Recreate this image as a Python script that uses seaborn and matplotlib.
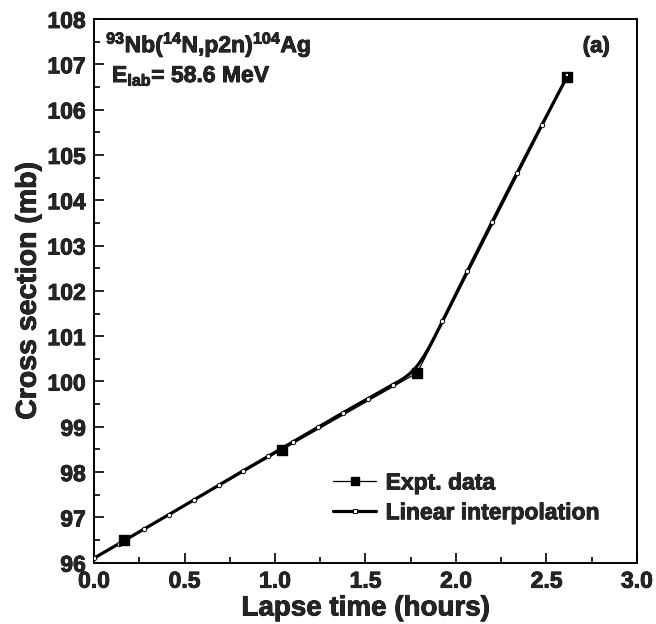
import numpy as np
import matplotlib
matplotlib.use("Agg")
import matplotlib.pyplot as plt
from matplotlib.lines import Line2D
from matplotlib.ticker import MultipleLocator
import matplotlib.patheffects as pe
import seaborn as sns

# Measured cross sections
expt_time = [0.167, 1.037, 1.786, 2.613]
expt_xs = [96.50, 98.49, 100.19, 106.71]

# Linearly interpolated values on the 20-step time grid
interp_time = [0.000, 0.138, 0.275, 0.413, 0.550, 0.688, 0.825, 0.963, 1.100, 1.238,
               1.375, 1.513, 1.650, 1.788, 1.925, 2.063, 2.200, 2.338, 2.475, 2.613]
interp_xs = [96.10, 96.42, 96.74, 97.06, 97.38, 97.71, 98.03, 98.35, 98.67, 98.99,
             99.31, 99.62, 99.93, 100.22, 101.33, 102.44, 103.53, 104.61, 105.67, 106.72]

x_ticks = [0.0, 0.5, 1.0, 1.5, 2.0, 2.5, 3.0]
y_ticks = list(range(96, 109))

sns.set_theme(style="ticks")
plt.rcParams["font.family"] = ["Liberation Sans", "DejaVu Sans"]
plt.rcParams["font.weight"] = "bold"
plt.rcParams["mathtext.fontset"] = "custom"
plt.rcParams["mathtext.rm"] = "Liberation Sans:bold"
plt.rcParams["mathtext.it"] = "Liberation Sans:bold"
plt.rcParams["mathtext.bf"] = "Liberation Sans:bold"

heavy = [pe.withStroke(linewidth=0.6, foreground="black")]


def bspline(xs, ys, n=24):
    """Uniform cubic B-spline over the given control points (smooth connector)."""
    P = np.column_stack([xs, ys])
    P = np.vstack([P[0], P[0], P, P[-1], P[-1]])
    t = np.linspace(0, 1, n)
    b0 = (1 - t) ** 3 / 6
    b1 = (3 * t ** 3 - 6 * t ** 2 + 4) / 6
    b2 = (-3 * t ** 3 + 3 * t ** 2 + 3 * t + 1) / 6
    b3 = t ** 3 / 6
    pts = []
    for i in range(len(P) - 3):
        seg = (np.outer(b0, P[i]) + np.outer(b1, P[i + 1])
               + np.outer(b2, P[i + 2]) + np.outer(b3, P[i + 3]))
        pts.append(seg)
    pts = np.vstack(pts)
    return pts[:, 0], pts[:, 1]


fig = plt.figure(figsize=(6.56, 6.24), dpi=100)
ax = fig.add_axes([0.1433, 0.0982, 0.8277, 0.8714])

sx, sy = bspline(interp_time, interp_xs)
sns.lineplot(x=sx, y=sy, sort=False, estimator=None, color="black", lw=2.3, ax=ax, zorder=3)
sns.lineplot(x=expt_time, y=expt_xs, sort=False, estimator=None, color="black", lw=0.9,
             ax=ax, zorder=4)
ax.plot(interp_time, interp_xs, ls="none", marker="o", ms=3.2, mfc="white", mec="black",
        mew=0.7, zorder=5)
ax.plot(expt_time, expt_xs, ls="none", marker="s", ms=7, mfc="black", mec="black", zorder=6)
# interpolation end point shows as a tiny open dot inside the last square
ax.plot(interp_time[-1:], [interp_xs[-1] + 0.05], ls="none", marker="s", ms=1.6,
        mfc="white", mec="white", mew=0, zorder=7)

ax.set_xlim(0, 3)
ax.set_ylim(96, 108)
ax.set_xticks(x_ticks)
ax.set_yticks(y_ticks)
ax.set_xticklabels([f"{v:.1f}" for v in x_ticks])
ax.set_yticklabels([str(v) for v in y_ticks])
ax.xaxis.set_minor_locator(MultipleLocator(0.25))
ax.yaxis.set_minor_locator(MultipleLocator(0.5))
ax.tick_params(which="both", direction="in", top=False, right=False, color="black", width=1.2)
ax.tick_params(which="major", length=7, labelsize=16.5)
ax.tick_params(axis="x", which="major", pad=5)
ax.tick_params(axis="y", which="major", pad=6)
ax.tick_params(which="minor", length=4)
for lab in ax.get_xticklabels() + ax.get_yticklabels():
    lab.set_fontweight("bold")
    lab.set_path_effects(heavy)
for sp in ax.spines.values():
    sp.set_visible(True)
    sp.set_linewidth(1.4)
    sp.set_color("black")

ax.set_xlabel("Lapse time (hours)", fontsize=20, fontweight="bold", labelpad=2,
              path_effects=heavy)
ax.set_ylabel("Cross section (mb)", fontsize=20.5, fontweight="bold", labelpad=4,
              path_effects=heavy)

ax.text(0.022, 0.939, r"$^{93}$Nb($^{14}$N,p2n)$^{104}$Ag", transform=ax.transAxes,
        fontsize=16.5, fontweight="bold", va="baseline", ha="left", path_effects=heavy)
ax.text(0.033, 0.884, r"E$_{\rm lab}$= 58.6 MeV", transform=ax.transAxes,
        fontsize=16.5, fontweight="bold", va="baseline", ha="left", path_effects=heavy)
ax.text(0.950, 0.939, "(a)", transform=ax.transAxes, fontsize=16, fontweight="bold",
        va="baseline", ha="right", path_effects=heavy)

handles = [
    Line2D([], [], color="black", lw=0.9, marker="s", ms=6, mfc="black", mec="black"),
    Line2D([], [], color="black", lw=2.3, marker="s", ms=3, mfc="white", mec="black", mew=0.7),
]
leg = ax.legend(handles, ["Expt. data", "Linear interpolation"], loc="upper left",
                bbox_to_anchor=(0.44, 0.168), frameon=False, borderpad=0, borderaxespad=0,
                handlelength=1.9, handletextpad=0.4, labelspacing=0.3,
                prop={"size": 16.5, "weight": "bold"})
for t in leg.get_texts():
    t.set_path_effects(heavy)

fig.savefig("out.png", dpi=100)
